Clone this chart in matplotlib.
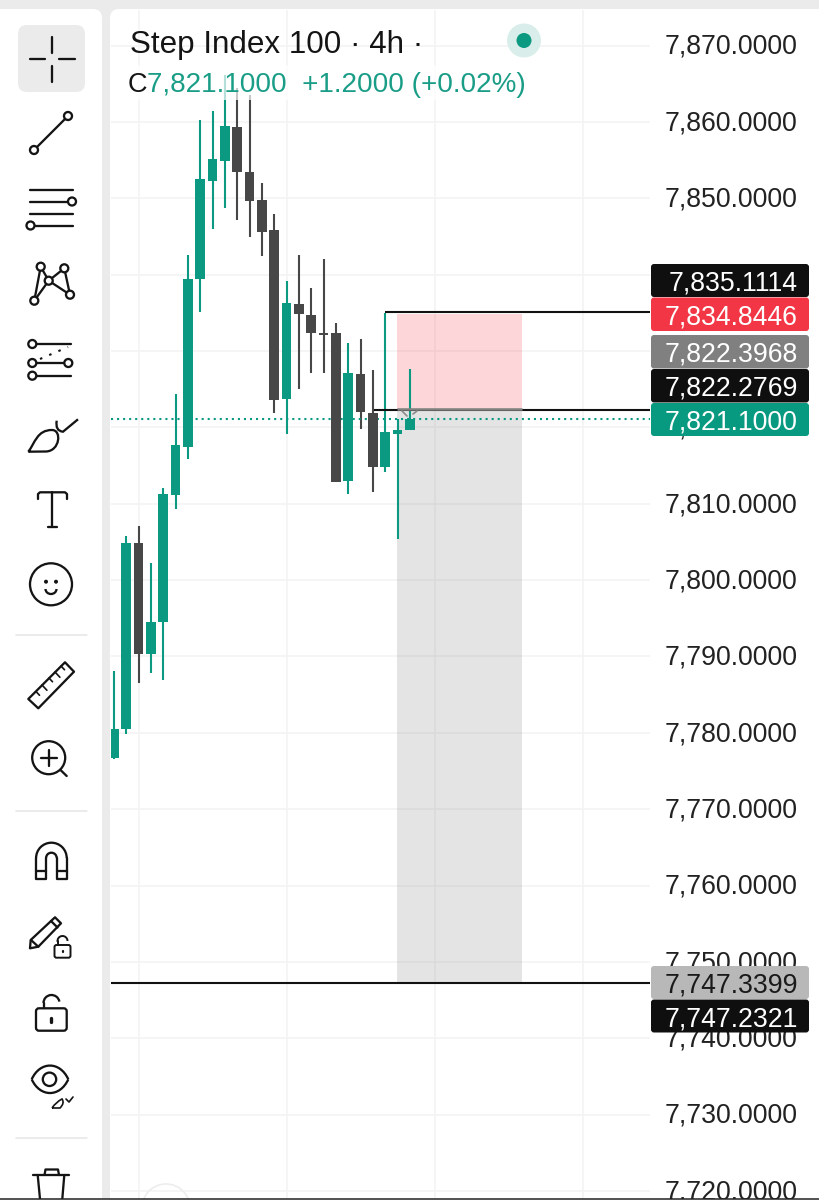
"""Step Index 100 4h chart with the mobile toolbar and a short position box."""

import matplotlib

matplotlib.use("Agg")

import matplotlib.pyplot as plt
import numpy as np
from matplotlib.patches import Arc, Circle, FancyBboxPatch, PathPatch, Polygon, Rectangle
from matplotlib.path import Path
from matplotlib.transforms import ScaledTranslation

plt.rcParams["font.family"] = ["Liberation Sans", "DejaVu Sans"]

opens = [7776.7, 7780.5, 7804.9, 7790.3, 7794.5, 7811.2, 7817.4, 7839.5, 7852.3, 7854.9,
         7859.4, 7853.5, 7849.8, 7845.8, 7823.7, 7836.2, 7834.7, 7832.3, 7832.3, 7813.0,
         7827.0, 7821.9, 7814.8, 7819.1, 7819.7]
highs = [7788.1, 7805.8, 7807.1, 7802.2, 7812.1, 7824.4, 7842.6, 7860.3, 7861.5, 7866.1,
         7864.5, 7863.6, 7852.0, 7847.9, 7839.2, 7842.6, 7838.2, 7842.0, 7833.7, 7831.1,
         7831.6, 7827.5, 7835.0, 7821.1, 7827.7]
lows = [7776.6, 7779.8, 7786.5, 7787.8, 7786.9, 7809.3, 7815.9, 7835.1, 7846.0, 7848.8,
        7847.1, 7845.0, 7842.5, 7821.9, 7819.1, 7825.0, 7827.1, 7827.1, 7812.8, 7811.3,
        7819.8, 7811.5, 7814.2, 7805.4, 7819.7]
closes = [7780.5, 7804.9, 7790.3, 7794.5, 7811.3, 7817.7, 7839.5, 7852.6, 7855.2, 7859.5,
          7853.4, 7849.6, 7845.6, 7823.6, 7836.3, 7834.9, 7832.3, 7832.1, 7812.9, 7827.1,
          7822.0, 7814.8, 7819.4, 7819.7, 7821.1]

price_ticks = [7720, 7730, 7740, 7750, 7760, 7770, 7780, 7790, 7800, 7810, 7820, 7830,
               7840, 7850, 7860, 7870]
time_grid = [2, 14, 26, 38]

last_price = 7821.1
stop_price = 7834.8446
entry_price = 7822.3968
target_price = 7747.3399
stop_line = 7835.1114
entry_line = 7822.2769
target_line = 7747.2321
box_start, box_end = 22.93, 33.1

tag_labels = ["7,835.1114", "7,834.8446", "7,822.3968", "7,822.2769", "7,821.1000",
              "7,747.3399", "7,747.2321"]
tag_colors = ["#0f0f0f", "#f23645", "#808080", "#0f0f0f", "#089981", "#b8b8b8", "#0f0f0f"]
tag_text_colors = ["white", "white", "white", "white", "white", "#1a1a1a", "white"]
tag_tops = [264, 297.5, 335, 369, 403, 966, 999.5]
tag_bottoms = [297, 331, 368.5, 402.5, 436, 999, 1032.5]

GREEN = "#0b9981"
DARK = "#474747"
ICON = "#141414"
CHROME = "#ebebeb"
W, H = 819, 1200
ICON_LW = 1.65

fig = plt.figure(figsize=(W / 100, H / 100), dpi=100, facecolor=CHROME)

# pixel-space layers behind and in front of the chart
back = fig.add_axes([0, 0, 1, 1], zorder=0)
ax = fig.add_axes([111 / W, 1 - 1198 / H, (650 - 111) / W, (1198 - 10) / H], zorder=1)
front = fig.add_axes([0, 0, 1, 1], zorder=2)
for layer in (back, front):
    layer.set_xlim(0, W)
    layer.set_ylim(H, 0)
    layer.axis("off")
front.patch.set_alpha(0)

for x0, x1 in ((-20, 102), (110, 860)):
    back.add_patch(FancyBboxPatch((x0, 9), x1 - x0, 1230, boxstyle="round,pad=0,rounding_size=9",
                                  fc="white", ec="none"))

# chart
ax.patch.set_alpha(0)
ax.set_xlim(-0.24, 43.47)
ax.set_ylim(7719.07, 7874.67)
for side in ax.spines.values():
    side.set_visible(False)
ax.set_xticks([])
ax.set_yticks(price_ticks)
ax.set_yticklabels([f"{p:,.4f}" for p in price_ticks], fontsize=19.2, color="#222222", ha="left")
ax.yaxis.tick_right()
ax.tick_params(axis="y", length=0, pad=10.8)
label_shift = ScaledTranslation(0, 1.2 / 72, fig.dpi_scale_trans)
for label in ax.get_yticklabels():
    label.set_transform(label.get_transform() + label_shift)
ax.set_axisbelow(True)
ax.grid(axis="y", color="#f3f3f3", lw=1.2)
for t in time_grid:
    ax.axvline(t, color="#f3f3f3", lw=1.2, zorder=1)

ax.fill_between([box_start, box_end], entry_price, stop_price, color="#f23645", alpha=0.2, lw=0, zorder=2)
ax.fill_between([box_start, box_end], target_price, entry_price, color="#787878", alpha=0.2, lw=0, zorder=2)

x = np.arange(len(opens))
o, c = np.array(opens), np.array(closes)
colors = [GREEN if b >= a else DARK for a, b in zip(opens, closes)]
ax.vlines(x, lows, highs, colors=colors, lw=1.5, zorder=3)
ax.bar(x, np.maximum(np.abs(c - o), 0.22), bottom=np.minimum(o, c), width=0.78, color=colors, lw=0, zorder=4)

ax.axhline(last_price, color=GREEN, lw=1.5, ls=(0, (1, 1.9)), zorder=3)
ax.hlines(stop_line, 22, 43.47, color="#111111", lw=1.5, zorder=5)
ax.hlines(entry_line, 21.1, 43.47, color="#111111", lw=1.5, zorder=3)
ax.hlines(entry_price, box_start, box_end, color="#808080", lw=1.8, zorder=5)
ax.hlines(target_line, -0.24, 43.47, color="#111111", lw=1.5, zorder=5)


def line(xs, ys, lw=ICON_LW, color=ICON, **kw):
    front.plot(xs, ys, color=color, lw=lw, solid_capstyle="round", solid_joinstyle="round", **kw)


def node(cx, cy, r=4):
    front.add_patch(Circle((cx, cy), r, fc="white", ec=ICON, lw=ICON_LW, zorder=4))


def outline(points, closed=True, fc="none", lw=ICON_LW):
    front.add_patch(Polygon(points, closed=closed, fc=fc, ec=ICON, lw=lw, joinstyle="round"))


def curve(verts, codes, lw=ICON_LW):
    front.add_patch(PathPatch(Path(verts, codes), fc="none", ec=ICON, lw=lw))


# small order chevrons on the entry line
line([402, 407], [411, 416], lw=1.2, color="#8a8a8a")
line([413, 417], [414, 411], lw=1.2, color="#8a8a8a")

# price tags
for label, fill, ink, top, bottom in zip(tag_labels, tag_colors, tag_text_colors, tag_tops, tag_bottoms):
    front.add_patch(FancyBboxPatch((651, top), 158, bottom - top, boxstyle="round,pad=0,rounding_size=3",
                                   fc=fill, ec="none"))
    front.text(798, (top + bottom) / 2, label, color=ink, fontsize=19.2, ha="right", va="center_baseline")

# legend text on its translucent backing
front.add_patch(Rectangle((128, 65), 400, 35, fc="white", ec="none", alpha=0.7))
front.text(130, 53, "Step Index 100 · 4h ·", fontsize=22.6, color="#141414", va="baseline")
front.text(128, 92, "C", fontsize=19.5, color="#141414", va="baseline")
front.text(147, 92, "7,821.1000  +1.2000 (+0.02%)", fontsize=20.1, color="#1a9d87", va="baseline")
front.add_patch(Circle((524, 40.5), 17, fc="#d9eeea", ec="none"))
front.add_patch(Circle((524, 40.5), 7.5, fc=GREEN, ec="none"))

# toolbar: cursor
front.add_patch(FancyBboxPatch((18, 25), 67, 67, boxstyle="round,pad=0,rounding_size=9", fc=CHROME, ec="none"))
line([52, 52], [37, 53])
line([52, 52], [66, 82])
line([30, 45], [59, 59])
line([59, 75], [59, 59])

# trend line
line([34, 68], [150, 116])
node(34, 150)
node(68, 116)

# parallel lines
line([30, 73], [189.5, 189.5])
line([30, 70], [201.5, 201.5])
line([30, 73], [213.5, 213.5])
line([31, 73], [225.5, 225.5])
node(72, 201.5)
node(30.5, 225.5)

# pattern
pts = [(40.7, 266.7), (64.3, 268.3), (48.7, 280.7), (70, 294.7), (34.3, 300.7)]
for a, b in ((0, 4), (0, 2), (2, 4), (2, 1), (1, 3), (2, 3)):
    line([pts[a][0], pts[b][0]], [pts[a][1], pts[b][1]])
for p in pts:
    node(*p)

# forecast lines
line([32, 71], [344, 344])
line([32, 68], [363, 363])
line([32, 71], [375.7, 375.7])
front.plot([40, 68], [359, 347], color=ICON, lw=1.5, ls=(0, (1.2, 3.6)))
node(32.3, 344)
node(32.3, 363)
node(68.3, 363)
node(32.3, 375.7)

# brush
curve([(28.3, 451.7), (35, 443), (37, 430), (52, 430), (62, 430), (60, 451), (46, 451.5), (28.3, 451.7)],
      [Path.MOVETO, Path.CURVE4, Path.CURVE4, Path.CURVE4, Path.CURVE4, Path.CURVE4, Path.CURVE4, Path.LINETO])
curve([(56.7, 420.7), (55, 431), (63, 431.7), (78, 419.3)],
      [Path.MOVETO, Path.CURVE3, Path.CURVE3, Path.LINETO])

# text tool
line([38, 38, 40, 65, 67, 67], [499, 494, 492.3, 492.3, 494, 499])
line([52.3, 52.3], [492.3, 526.7])
line([47.7, 57.3], [526.7, 526.7])

# emoji
front.add_patch(Circle((51, 584.3), 21, fc="none", ec=ICON, lw=ICON_LW))
front.add_patch(Circle((46, 581.7), 2, fc=ICON, ec="none"))
front.add_patch(Circle((56, 581.7), 2, fc=ICON, ec="none"))
front.add_patch(Arc((51, 589), 11, 10, theta1=0, theta2=180, ec=ICON, lw=ICON_LW))

line([16, 87], [635, 635], lw=1.1, color="#e6e6e6")

# ruler
outline([(65, 662.3), (74, 671.7), (38.3, 708.3), (28.3, 699)])
for tx, ty, size in ((36, 691.5, 5), (42, 685, 7), (49, 678, 5), (55, 672, 7), (61, 666, 5)):
    line([tx, tx + size * 0.7], [ty, ty + size * 0.75], lw=1.2)

# zoom
front.add_patch(Circle((48.7, 757.7), 16.5, fc="none", ec=ICON, lw=ICON_LW))
line([40.5, 57], [757.7, 757.7])
line([48.7, 48.7], [749.5, 766])
line([60.5, 66.7], [770, 776])

line([16, 87], [811, 811], lw=1.1, color="#e6e6e6")

# magnet
front.add_patch(Arc((51.4, 858), 30.6, 30.6, theta1=180, theta2=360, ec=ICON, lw=ICON_LW))
front.add_patch(Arc((51.4, 858), 10.6, 10.6, theta1=180, theta2=360, ec=ICON, lw=ICON_LW))
line([36.1, 36.1, 46.1, 46.1], [858, 878.7, 878.7, 858])
line([56.7, 56.7, 66.7, 66.7], [858, 878.7, 878.7, 858])
line([36.1, 46.1], [870.5, 870.5])
line([56.7, 66.7], [870.5, 870.5])

# pencil with small lock
outline([(30, 948.3), (30.7, 940), (55, 917.3), (61, 923.3), (38.3, 946.7)])
line([31, 38.3], [940, 946.7])
line([51, 57.5], [921, 927.5])
front.add_patch(FancyBboxPatch((54.5, 945), 16, 12.7, boxstyle="round,pad=0,rounding_size=2", fc="white", ec=ICON, lw=1.4))
front.add_patch(Arc((62.5, 941), 10, 10, theta1=170, theta2=360, ec=ICON, lw=1.4))
line([57.5, 57.5], [941, 945], lw=1.4)
line([62.5, 62.5], [950.5, 952], lw=1.6)

# lock
front.add_patch(FancyBboxPatch((36, 1008.3), 30.7, 22.4, boxstyle="round,pad=0,rounding_size=3", fc="none", ec=ICON, lw=ICON_LW))
front.add_patch(Arc((51.5, 1003), 16, 16, theta1=180, theta2=350, ec=ICON, lw=ICON_LW))
line([43.5, 43.5], [1003, 1008])
line([51.3, 51.3], [1017.5, 1022], lw=2.4)

# eye with small brush
curve([(31.7, 1079.3), (40, 1061), (60, 1061), (68.3, 1079.3)],
      [Path.MOVETO, Path.CURVE4, Path.CURVE4, Path.CURVE4])
curve([(31.7, 1079.3), (40, 1097.6), (60, 1097.6), (68.3, 1079.3)],
      [Path.MOVETO, Path.CURVE4, Path.CURVE4, Path.CURVE4])
front.add_patch(Circle((49.5, 1079.3), 6.7, fc="none", ec=ICON, lw=ICON_LW))
curve([(52, 1108), (56, 1102), (62, 1099), (65, 1103), (60, 1108), (52, 1108)],
      [Path.MOVETO, Path.CURVE3, Path.CURVE3, Path.CURVE3, Path.CURVE3, Path.LINETO], lw=1.2)
line([66, 69, 73], [1099, 1102, 1097], lw=1.2)

line([16, 87], [1137.5, 1137.5], lw=1.1, color="#e6e6e6")

# trash
line([33.3, 69], [1175, 1175])
line([37.7, 40], [1175, 1199])
line([64.3, 62.3], [1175, 1199])
line([44.5, 45.5, 58, 59], [1175, 1169.5, 1169.5, 1175])

# faint arc at the chart's bottom edge and the screenshot's closing rule
front.add_patch(Arc((166, 1208), 48, 48, theta1=200, theta2=340, ec="#ededed", lw=1.2))
front.add_patch(Rectangle((0, 1198.5), W, 2, fc="white", ec="none", zorder=5))
front.plot([0, W], [1198.5, 1198.5], color="#222222", lw=1.1, zorder=6)

fig.savefig("out.png", dpi=100, facecolor=fig.get_facecolor())
plt.close(fig)
